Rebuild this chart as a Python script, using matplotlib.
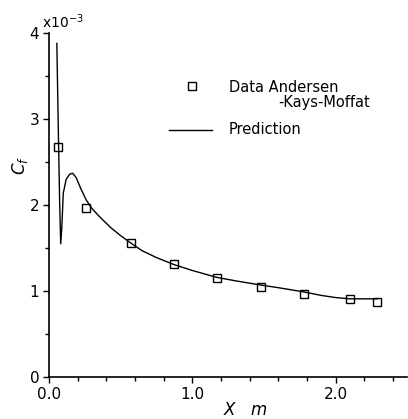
import matplotlib
matplotlib.use("Agg")
import matplotlib.pyplot as plt
from matplotlib.lines import Line2D
from matplotlib.ticker import MultipleLocator, FixedLocator, FixedFormatter

# Measured skin-friction coefficient (Andersen, Kays & Moffat), units of 1e-3
data_x = [0.063, 0.26, 0.57, 0.87, 1.17, 1.48, 1.78, 2.10, 2.29]
data_cf = [2.67, 1.97, 1.56, 1.31, 1.15, 1.05, 0.97, 0.91, 0.87]

# Predicted skin-friction distribution, units of 1e-3
pred_x = [0.055, 0.065, 0.075, 0.082, 0.09, 0.10, 0.12, 0.145, 0.166, 0.19,
          0.22, 0.26, 0.30, 0.35, 0.43, 0.50, 0.57, 0.65, 0.75, 0.87, 1.0,
          1.17, 1.3, 1.48, 1.6, 1.78, 1.9, 2.0, 2.1, 2.2, 2.29]
pred_cf = [3.88, 2.9, 2.0, 1.55, 1.75, 2.14, 2.30, 2.36, 2.37, 2.32,
           2.20, 2.06, 1.96, 1.87, 1.74, 1.645, 1.56, 1.47, 1.39, 1.31, 1.24,
           1.16, 1.12, 1.07, 1.04, 0.99, 0.95, 0.925, 0.91, 0.91, 0.91]

x_major = [0.0, 1.0, 2.0]
x_labels = ["0.0", "1.0", "2.0"]
y_major = [0, 1, 2, 3, 4]

W, H = 408, 419
fig = plt.figure(figsize=(W / 100, H / 100), dpi=100)
ax = fig.add_axes([0.120, 0.100, 0.878, 0.821])

ax.plot(pred_x, pred_cf, color="black", lw=1.0)
ax.plot(data_x, data_cf, ls="none", marker="s", ms=5.5, mfc="none",
        mec="black", mew=1.0)

ax.set_xlim(0, 2.5)
ax.set_ylim(0, 4)
for s in ("top", "right"):
    ax.spines[s].set_visible(False)
ax.spines["left"].set_linewidth(1.2)
ax.spines["bottom"].set_linewidth(1.2)

ax.xaxis.set_major_locator(FixedLocator(x_major))
ax.xaxis.set_major_formatter(FixedFormatter(x_labels))
ax.xaxis.set_minor_locator(MultipleLocator(0.2))
ax.yaxis.set_major_locator(FixedLocator(y_major))
ax.yaxis.set_minor_locator(MultipleLocator(0.5))
ax.tick_params(axis="both", which="major", direction="out", length=4,
               width=1.0, labelsize=11, pad=3)
ax.tick_params(axis="both", which="minor", direction="out", length=3,
               width=1.0)

ax.text(-0.02, 1.005, r"x$10^{-3}$", transform=ax.transAxes, fontsize=10,
        ha="left", va="bottom")


def fx(px):
    return px / W


def fy(py):
    return 1 - py / H


fig.text(fx(20), fy(165), r"$C_f$", fontsize=12, rotation=90,
         ha="center", va="center")
fig.text(fx(246), fy(410), r"$X$   $m$", fontsize=12, ha="center",
         va="center")

# Key
fig.add_artist(Line2D([fx(192)], [fy(86)], marker="s", ms=5.5, mfc="none",
                      mec="black", mew=1.0, ls="none",
                      transform=fig.transFigure))
fig.text(fx(229), fy(87), "Data Andersen", fontsize=10.5, ha="left",
         va="center")
fig.text(fx(278), fy(103), "-Kays-Moffat", fontsize=10.5, ha="left",
         va="center")
fig.add_artist(Line2D([fx(169), fx(212)], [fy(130), fy(130)], color="black",
                      lw=1.0, transform=fig.transFigure))
fig.text(fx(229), fy(129), "Prediction", fontsize=10.5, ha="left",
         va="center")

fig.savefig("out.png", dpi=100)
